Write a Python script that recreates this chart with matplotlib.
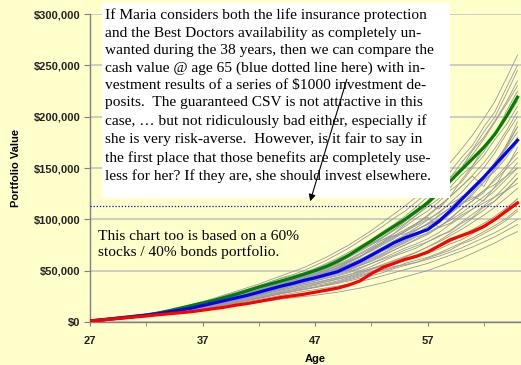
import matplotlib
matplotlib.use('Agg')
import matplotlib.pyplot as plt
from matplotlib.patches import Rectangle
from matplotlib.ticker import FuncFormatter, MultipleLocator

# portfolio values in $1000 for ages 27..65
ages = list(range(27, 66))

p90 = [1, 2.1, 3.3, 4.5, 5.7, 6.8, 8.6, 10.9, 13.4, 16, 18.5, 21, 24, 27, 30.5, 34, 37, 40, 43,
       46.5, 50, 54, 59, 65, 72, 79, 86, 93, 100, 108, 116, 126, 137, 148, 159, 170, 183, 200, 219]
median = [1, 2, 3.1, 4.2, 5.4, 6.6, 8, 9.7, 11.5, 13.5, 16, 18.5, 21, 23.5, 26, 29, 32, 35, 37.5,
          40.5, 43, 46, 49, 54, 59, 65, 71, 77, 82, 86, 90, 98, 108, 119, 130, 141, 153, 165, 177]
p10 = [1, 1.9, 2.9, 3.9, 4.9, 5.9, 7, 8, 9, 10, 11.5, 13, 14.5, 16.5, 18, 20, 22, 24, 25.5,
       27, 29, 31, 33, 36, 40, 47, 53, 57, 61, 64, 68, 74, 80, 84, 88, 93, 100, 108, 116]

# individual simulated paths
paths = [
    [1, 2.2, 3.4, 4.7, 6.1, 7.6, 9.2, 11, 13.5, 16, 19, 22, 25, 28, 31, 35, 39, 43, 46, 50, 55, 60, 66, 72, 79, 86, 93, 101, 108, 117, 126, 138, 146, 160, 172, 190, 205, 228, 250],
    [1, 2.1, 3.3, 4.6, 5.9, 7.4, 9, 10.8, 13, 15.5, 18.5, 21, 24.5, 27, 30, 33, 37, 40, 44, 47, 52, 57, 62, 68, 74, 80, 88, 95, 103, 112, 122, 130, 141, 150, 167, 180, 196, 214, 235],
    [1, 2.1, 3.2, 4.4, 5.7, 7.1, 8.6, 10.2, 12.2, 14.5, 17.3, 20, 23, 26, 29, 32, 35.5, 39, 42, 45, 49, 53, 58, 64, 70, 77, 82, 90, 98, 106, 115, 110, 122, 138, 152, 166, 182, 205, 225],
    [1, 2, 3.2, 4.4, 5.6, 7, 8.4, 10, 12, 14.2, 16.8, 19.5, 22, 25, 28, 31, 34.5, 38, 41, 44, 47, 51, 56, 61, 67, 73, 80, 86, 93, 101, 108, 117, 128, 136, 150, 162, 178, 192, 210],
    [1, 2.1, 3.2, 4.3, 5.5, 6.9, 8.3, 9.8, 11.8, 14, 16.5, 19, 22, 24.5, 27, 30, 33, 36, 39, 42, 45, 49, 53, 58, 63, 70, 77, 83, 88, 94, 100, 106, 116, 126, 138, 150, 165, 183, 200],
    [1, 2, 3.1, 4.3, 5.5, 6.8, 8.1, 9.6, 11.6, 13.8, 16.2, 18.8, 21.5, 24, 26.5, 29.5, 32.5, 35.5, 38, 41, 44, 47, 51, 56, 61, 66, 72, 79, 84, 90, 95, 104, 111, 122, 128, 140, 156, 170, 190],
    [1, 2, 3.1, 4.2, 5.4, 6.6, 7.9, 9.3, 11.3, 13.3, 15.8, 18.2, 20.8, 23.2, 25.8, 28.6, 31.5, 34.5, 37, 40, 42.5, 45.5, 48.5, 53, 58, 63, 69, 74, 80, 85, 89, 96, 105, 114, 124, 136, 149, 163, 180],
    [1, 2, 3, 4.1, 5.3, 6.5, 7.8, 9.2, 11, 13, 15.4, 17.8, 20.3, 22.8, 25.3, 28, 31, 33.8, 36.5, 39, 42, 45, 48, 52, 57, 62, 67, 73, 78, 84, 90, 97, 106, 116, 122, 118, 132, 150, 170],
    [1, 2, 3.1, 4.1, 5.2, 6.4, 7.7, 9, 10.9, 12.8, 15, 17.5, 20, 22.5, 25, 27.5, 30.5, 33, 36, 38.5, 41, 44, 47, 50, 55, 60, 65, 70, 75, 80, 85, 92, 100, 110, 118, 128, 138, 149, 160],
    [1, 2, 3, 4.1, 5.2, 6.3, 7.5, 8.9, 10.6, 12.5, 14.7, 17, 19.4, 21.8, 24.2, 26.8, 29.5, 32, 35, 37.5, 40, 42.5, 45, 48, 52, 57, 62, 67, 72, 76, 81, 87, 95, 102, 110, 119, 128, 139, 150],
    [1, 2, 3, 4, 5.1, 6.2, 7.4, 8.7, 10.4, 12.2, 14.3, 16.5, 19, 21.2, 23.5, 26, 28.5, 31, 33.5, 36, 38, 40.5, 43, 46, 50, 54, 59, 64, 68, 72, 78, 84, 88, 96, 102, 112, 118, 128, 140],
    [1, 2, 3, 4, 5, 6.1, 7.3, 8.5, 10.1, 11.9, 13.9, 16, 18.3, 20.6, 22.8, 25.2, 27.6, 30, 32.5, 34.8, 37, 39.5, 42, 44.5, 48, 52, 56, 60, 64, 68, 73, 78, 84, 90, 97, 104, 112, 121, 130],
    [1, 1.9, 2.9, 3.9, 4.9, 6, 7.1, 8.3, 9.8, 11.5, 13.4, 15.4, 17.5, 19.6, 21.7, 24, 26.4, 28.7, 31, 33.2, 35.5, 37.5, 40, 43, 46, 49, 53, 57, 60, 64, 68, 73, 78, 84, 90, 96, 103, 111, 120],
    [1, 1.9, 2.9, 3.9, 4.9, 5.9, 7, 8.2, 9.6, 11.2, 13, 14.9, 16.9, 18.9, 21, 23, 25.2, 27.4, 29.5, 31.5, 33.5, 35.5, 37.5, 40, 42.5, 45, 48, 52, 55, 58, 62, 66, 70, 76, 80, 86, 92, 99, 108],
    [1, 1.9, 2.9, 3.8, 4.8, 5.8, 6.9, 8, 9.4, 10.9, 12.6, 14.4, 16.3, 18.2, 20.1, 22, 24, 26, 28, 29.8, 31.5, 33.2, 35, 37, 39.5, 42, 45, 48, 51, 54, 57, 61, 65, 69, 73, 78, 83, 89, 95],
    [1, 1.8, 2.7, 3.6, 4.5, 5.4, 6.4, 7.4, 8.6, 9.9, 11.3, 12.8, 14.4, 16, 17.6, 19.2, 20.8, 22.3, 23.6, 24.8, 26, 27.5, 29, 31, 33, 35.5, 38, 41, 44, 47, 50, 54, 58, 62, 67, 72, 77, 83, 88],
    [1, 2.1, 3.2, 4.4, 5.7, 7, 8.5, 10.1, 12.1, 14.3, 17, 19.7, 22.5, 25.5, 28.5, 31.5, 35, 38.5, 41.5, 44.5, 48, 52, 57, 63, 69, 75, 82, 89, 96, 104, 112, 120, 131, 143, 152, 170, 185, 198, 215],
    [1, 2, 3.1, 4.2, 5.4, 6.6, 7.9, 9.3, 11.2, 13.2, 15.6, 18, 20.6, 23, 25.6, 28.3, 31.2, 34, 36.8, 39.5, 42, 45, 48, 51, 56, 61, 66, 72, 77, 83, 86, 92, 101, 110, 118, 126, 140, 152, 165],
    [1, 2.1, 3.3, 4.5, 5.8, 7.2, 8.7, 10.4, 12.6, 15, 17.8, 20.5, 23.5, 26.5, 29.5, 33, 36.5, 40, 43.5, 47, 51, 55, 59, 64, 70, 76, 83, 90, 98, 107, 118, 131, 140, 155, 168, 185, 200, 222, 245],
    [1, 2, 3.1, 4.3, 5.5, 6.8, 8.2, 9.7, 11.7, 13.9, 16.4, 19, 21.8, 24.5, 27.2, 30, 33, 36, 39, 42, 45, 48.5, 52, 56, 61, 67, 73, 79, 85, 92, 99, 107, 115, 121, 132, 142, 155, 172, 190],
    [1, 2, 3, 4.1, 5.2, 6.3, 7.6, 8.9, 10.7, 12.6, 14.8, 17.1, 19.5, 21.9, 24.4, 27, 29.6, 32.3, 35, 37.5, 40, 43, 46, 49, 53, 57, 61, 65, 70, 74, 78, 83, 89, 97, 105, 113, 122, 133, 145],
    [1, 1.9, 2.9, 3.9, 4.9, 6, 7.1, 8.3, 9.8, 11.4, 13.2, 15.1, 17.1, 19.1, 21.2, 23.4, 25.6, 27.8, 30, 32, 34, 36.5, 39, 42, 45, 48, 51, 54, 56, 58, 61, 64, 68, 72, 77, 82, 87, 93, 100],
    [1, 2.2, 3.4, 4.7, 6.1, 7.6, 9.3, 11.2, 13.6, 16.3, 19.3, 22.4, 25.6, 28.9, 32, 35.5, 39, 42.5, 45, 48, 52, 56, 61, 66, 71, 76, 80, 84, 86, 90, 95, 100, 108, 115, 120, 128, 134, 142, 150],
    [1, 1.9, 2.9, 3.9, 5, 6.1, 7.3, 8.6, 10.2, 12, 14, 16.2, 18.5, 21, 23.5, 26.5, 29.5, 33, 36.5, 40, 44, 48, 53, 58, 64, 71, 78, 86, 95, 104, 114, 125, 137, 150, 163, 178, 195, 212, 230],
    [1, 2, 3.1, 4.3, 5.5, 6.8, 8.2, 9.7, 11.6, 13.7, 16.1, 18.6, 21.3, 24, 27, 30, 33, 36.5, 40, 43, 46, 50, 55, 60, 66, 72, 78, 84, 90, 96, 102, 92, 96, 104, 110, 116, 122, 128, 135],
    [1, 2.2, 3.5, 4.9, 6.3, 7.9, 9.6, 11.5, 14, 16.8, 19.9, 23, 26.5, 30, 33.5, 37, 41, 45, 49, 53, 58, 63, 69, 75, 82, 89, 97, 105, 113, 122, 132, 143, 155, 168, 182, 198, 215, 237, 260],
    [1, 2, 3, 4.1, 5.2, 6.3, 7.5, 8.8, 10.5, 12.3, 14.4, 16.6, 19, 21.3, 23.7, 26.2, 28.8, 31.3, 33.8, 36.3, 38.6, 41, 43.5, 46, 49, 52, 55, 57, 60, 63, 67, 71, 76, 80, 86, 92, 100, 110, 120],
    [1, 2.1, 3.2, 4.3, 5.5, 6.8, 8.2, 9.7, 11.6, 13.7, 16.1, 18.6, 21.2, 23.8, 26.5, 29.4, 32.5, 35.6, 38.5, 41.5, 44.5, 48, 51.5, 55, 60, 65, 70, 74, 79, 86, 93, 100, 106, 114, 126, 138, 147, 160, 175],
    [1, 2.1, 3.2, 4.4, 5.6, 6.9, 8.3, 9.9, 11.9, 14.1, 16.6, 19.2, 21.9, 24.7, 27.6, 30.7, 34, 37.2, 40.4, 43.6, 47, 50.5, 54.5, 59, 64, 70, 76, 82, 89, 96, 104, 113, 122, 132, 143, 155, 169, 186, 205],
    [1, 1.9, 2.9, 3.9, 4.9, 6, 7.1, 8.3, 9.8, 11.4, 13.2, 15.1, 17.1, 19.1, 21.2, 23.4, 25.6, 27.9, 30, 32, 34, 36, 38.5, 41, 44, 47, 50, 53, 57, 60, 63, 67, 72, 77, 82, 88, 94, 101, 110],
    [1, 2, 3.1, 4.2, 5.4, 6.6, 7.9, 9.3, 11.1, 13.1, 15.3, 17.7, 20.2, 22.7, 25.3, 28, 30.8, 33.7, 36.5, 39.3, 42, 45, 48, 51, 55, 59, 64, 70, 75, 81, 87, 93, 99, 106, 114, 122, 131, 142, 155],
    [1, 2.1, 3.2, 4.4, 5.7, 7, 8.4, 10, 12, 14.2, 16.7, 19.3, 22.1, 24.9, 27.8, 30.9, 34, 37.3, 40.5, 43.8, 47, 50.5, 54.5, 59, 64, 69, 75, 81, 88, 95, 103, 112, 122, 132, 142, 132, 150, 172, 195],
    [1, 1.9, 2.9, 3.9, 5, 6.1, 7.2, 8.4, 10, 11.7, 13.6, 15.6, 17.7, 19.9, 22.1, 24.4, 26.8, 29.2, 31.6, 34, 36.5, 39, 41.5, 44, 47, 51, 55, 59, 63, 68, 73, 79, 86, 93, 101, 109, 118, 129, 140],
    [1, 2, 3.1, 4.3, 5.5, 6.8, 8.2, 9.7, 11.6, 13.7, 16.1, 18.6, 21.3, 24, 26.8, 29.8, 32.9, 36, 39.1, 42.2, 45.4, 48.8, 52.5, 56.5, 61, 66, 71, 77, 83, 89, 96, 103, 111, 120, 130, 141, 154, 169, 185],
]

csv_at_65 = 113  # guaranteed cash surrender value, $1000

note = ("If Maria considers both the life insurance protection\n"
        "and the Best Doctors availability as completely un-\n"
        "wanted during the 38 years, then we can compare the\n"
        "cash value @ age 65 (blue dotted line here) with in-\n"
        "vestment results of a series of \\$1000 investment de-\n"
        "posits.  The guaranteed CSV is not attractive in this\n"
        "case, \u2026 but not ridiculously bad either, especially if\n"
        "she is very risk-averse.  However, is it fair to say in\n"
        "the first place that those benefits are completely use-\n"
        "less for her? If they are, she should invest elsewhere.")
note2 = "This chart too is based on a 60%\nstocks / 40% bonds portfolio."

bg = '#FFFFCC'
fig = plt.figure(figsize=(5.21, 3.65), dpi=100, facecolor=bg)
ax = fig.add_axes([90 / 521, 43 / 365, 450 / 521, 308 / 365])
ax.set_facecolor(bg)

for p in paths:
    ax.plot(ages, [v * 1000 for v in p], color='#999999', lw=0.6, zorder=2)
ax.axhline(csv_at_65 * 1000, color='#0000FF', lw=0.9, ls=(0, (1, 1.5)), zorder=3)
ax.plot(ages, [v * 1000 for v in p90], color='#008000', lw=2.3, zorder=4)
ax.plot(ages, [v * 1000 for v in median], color='#0000FF', lw=2.3, zorder=5)
ax.plot(ages, [v * 1000 for v in p10], color='#FF0000', lw=2.3, zorder=6)

ax.set_xlim(27, 67)
ax.set_ylim(0, 300000)
ax.set_xticks([27, 37, 47, 57])
ax.set_xticks([32, 42, 52, 62], minor=True)
ax.yaxis.set_major_locator(MultipleLocator(50000))
ax.yaxis.set_major_formatter(FuncFormatter(lambda v, pos: '${:,.0f}'.format(v)))
ax.grid(axis='y', color='#C0C0C0', lw=1.1, zorder=1)
ax.set_axisbelow(True)

for s in ['top', 'right']:
    ax.spines[s].set_visible(False)
for s in ['left', 'bottom']:
    ax.spines[s].set_color('#808080')
    ax.spines[s].set_linewidth(1.0)

ax.tick_params(axis='y', length=4, color='#808080', pad=3, labelsize=8)
ax.tick_params(axis='x', which='both', length=3, color='#808080', pad=7, labelsize=8)
for lab in ax.get_xticklabels() + ax.get_yticklabels():
    lab.set_fontweight('bold')
    lab.set_family('Liberation Sans')
    lab.set_color('#222222')

ax.set_xlabel('Age', fontsize=8, fontweight='bold', family='Liberation Sans', labelpad=6)
ax.set_ylabel('Portfolio Value', fontsize=8, fontweight='bold', family='Liberation Sans', labelpad=9)

# white comment box with the note, arrow drawn over it
box = Rectangle((102 / 521, 1 - 198 / 365), 348 / 521, 195 / 365, transform=fig.transFigure,
                facecolor='white', edgecolor='none', zorder=10, clip_on=False)
ax.add_patch(box)
ax.text(105 / 521, 1 - 8.5 / 365, note, transform=fig.transFigure, va='top', ha='left',
        fontsize=11.1, family='Liberation Serif', linespacing=1.43, zorder=11)
ax.annotate('', xy=(46.5, 115000), xytext=(49.9, 239000),
            arrowprops=dict(arrowstyle='-|>', color='black', lw=0.8, mutation_scale=10),
            zorder=12, annotation_clip=False)
ax.text(27.7, 90000, note2, va='top', ha='left', fontsize=11.1,
        family='Liberation Serif', linespacing=1.25, zorder=7)

fig.savefig('out.png', dpi=100, facecolor=bg)
